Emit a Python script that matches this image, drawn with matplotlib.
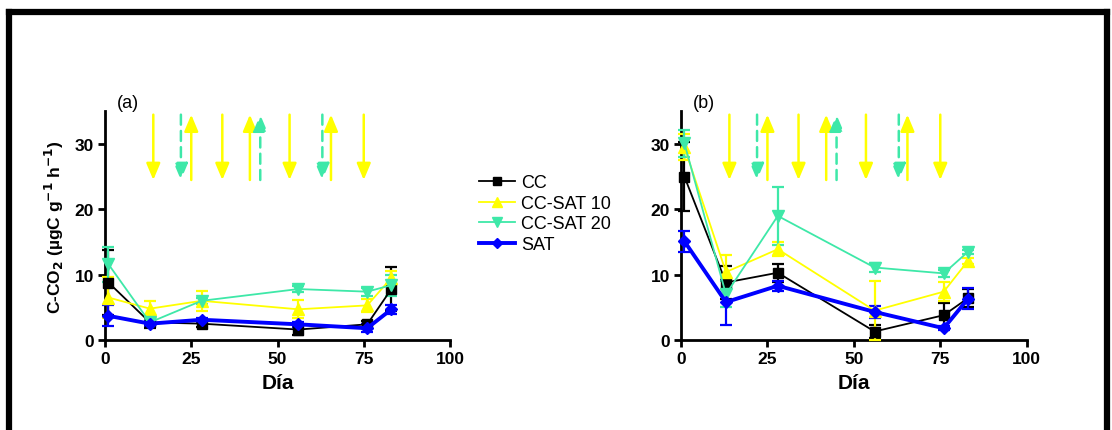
import matplotlib
matplotlib.use("Agg")
import matplotlib.pyplot as plt
from matplotlib.lines import Line2D

plt.rcParams['font.family'] = ['Liberation Sans', 'DejaVu Sans']

days = [1, 13, 28, 56, 76, 83]

# Panel (a)
a_cc = [8.8, 2.7, 2.5, 1.6, 2.4, 7.8]
a_cc_err = [5.0, 0.9, 0.5, 0.8, 0.5, 3.4]
a_s10 = [6.5, 4.8, 6.0, 4.7, 5.3, 9.5]
a_s10_err = [3.1, 1.2, 1.5, 1.4, 1.0, 1.0]
a_s20 = [11.6, 2.7, 6.0, 7.8, 7.4, 8.4]
a_s20_err = [2.7, 0.4, 0.5, 0.4, 0.6, 1.6]
a_sat = [3.7, 2.5, 3.1, 2.4, 1.8, 4.7]
a_sat_err = [1.6, 0.4, 0.3, 0.4, 0.6, 0.7]

# Panel (b)
b_cc = [25.0, 8.8, 10.3, 1.3, 3.8, 6.4]
b_cc_err = [5.3, 2.5, 1.4, 1.0, 1.9, 1.4]
b_s10 = [29.5, 10.4, 13.9, 4.5, 7.4, 12.1]
b_s10_err = [2.0, 2.6, 1.1, 4.5, 1.5, 0.5]
b_s20 = [30.1, 7.0, 19.0, 11.1, 10.2, 13.5]
b_s20_err = [2.1, 2.0, 4.5, 0.7, 0.5, 0.3]
b_sat = [15.1, 5.8, 8.3, 4.3, 1.8, 6.3]
b_sat_err = [1.6, 3.5, 0.8, 0.9, 0.3, 1.6]

# Event arrows (day positions)
yellow_down = [14, 34, 53.5, 75]
yellow_up = [25, 42, 65.5]
green_down = [22, 63]
green_up = [45]
arrow_top = 34.5
arrow_bottom = 24.5

labels = ["CC", "CC-SAT 10", "CC-SAT 20", "SAT"]
colors = ["#000000", "#FFFF00", "#3EE8A8", "#0000FF"]
markers = ["s", "^", "v", "D"]
msizes = [7, 8, 8, 6]
lwidths = [1.3, 1.3, 1.3, 2.8]

fig = plt.figure(figsize=(11.12, 4.31), dpi=100)

ax_a = fig.add_axes([105 / 1112, 90 / 431, 345 / 1112, 228.6 / 431])
ax_b = fig.add_axes([681 / 1112, 90 / 431, 345.7 / 1112, 228.6 / 431])


def draw_arrows(ax):
    def arr(x, up, color, dashed):
        y0, y1 = (arrow_bottom, arrow_top) if up else (arrow_top, arrow_bottom)
        ax.annotate("", xy=(x, y1), xytext=(x, y0),
                    arrowprops=dict(arrowstyle="-|>,head_width=0.42,head_length=1.0",
                                    color=color, lw=1.8,
                                    linestyle=(0, (4, 2.5)) if dashed else "-",
                                    shrinkA=0, shrinkB=0))
    for x in yellow_down:
        arr(x, False, colors[1], False)
    for x in yellow_up:
        arr(x, True, colors[1], False)
    for x in green_down:
        arr(x, False, colors[2], True)
    for x in green_up:
        arr(x, True, colors[2], True)


def draw_panel(ax, series, errs, tag):
    for vals, err, c, m, ms, lw, lab in zip(series, errs, colors, markers, msizes, lwidths, labels):
        ax.errorbar(days, vals, yerr=err, color=c, marker=m, markersize=ms,
                    linewidth=lw, elinewidth=1.6, capsize=4, capthick=1.6,
                    label=lab, clip_on=False, zorder=3)
    draw_arrows(ax)
    ax.set_xlim(0, 100)
    ax.set_ylim(0, 35)
    ax.set_xticks([0, 25, 50, 75, 100])
    ax.set_yticks([0, 10, 20, 30])
    for s in ("top", "right"):
        ax.spines[s].set_visible(False)
    for s in ("left", "bottom"):
        ax.spines[s].set_linewidth(2)
    ax.tick_params(axis="both", direction="out", width=2, length=5,
                   labelsize=12.5, pad=3)
    for t in ax.get_xticklabels() + ax.get_yticklabels():
        t.set_fontweight("bold")
    ax.set_xlabel("Día", fontsize=15, fontweight="bold", labelpad=5)
    ax.text(0.035, 1.0, tag, transform=ax.transAxes, fontsize=13,
            va="bottom", ha="left")


draw_panel(ax_a, [a_cc, a_s10, a_s20, a_sat],
           [a_cc_err, a_s10_err, a_s20_err, a_sat_err], "(a)")
draw_panel(ax_b, [b_cc, b_s10, b_s20, b_sat],
           [b_cc_err, b_s10_err, b_s20_err, b_sat_err], "(b)")

ax_a.set_ylabel("C-CO$_\\mathbf{2}$ (µgC g$^\\mathbf{-1}$ h$^\\mathbf{-1}$)",
                fontsize=12.5, fontweight="bold", labelpad=6)

leg_handles = [Line2D([], [], color=c, marker=m, markersize=ms - 1, linewidth=lw)
               for c, m, ms, lw in zip(colors, markers, msizes, lwidths)]
fig.legend(leg_handles, labels, loc="upper left",
           bbox_to_anchor=(472 / 1112, 1 - 168 / 431), frameon=False,
           fontsize=13, handlelength=2.0, handletextpad=0.3,
           labelspacing=0.2, borderaxespad=0)

# Outer frame open at the bottom
frame_kw = dict(transform=fig.transFigure, color="black", linewidth=4.5,
                solid_capstyle="projecting")
fig.add_artist(Line2D([8.5 / 1112, 8.5 / 1112], [0, 1 - 12.5 / 431], **frame_kw))
fig.add_artist(Line2D([8.5 / 1112, 1106.5 / 1112], [1 - 12.5 / 431, 1 - 12.5 / 431], **frame_kw))
fig.add_artist(Line2D([1106.5 / 1112, 1106.5 / 1112], [0, 1 - 12.5 / 431], **frame_kw))

fig.savefig("out.png", dpi=100)
